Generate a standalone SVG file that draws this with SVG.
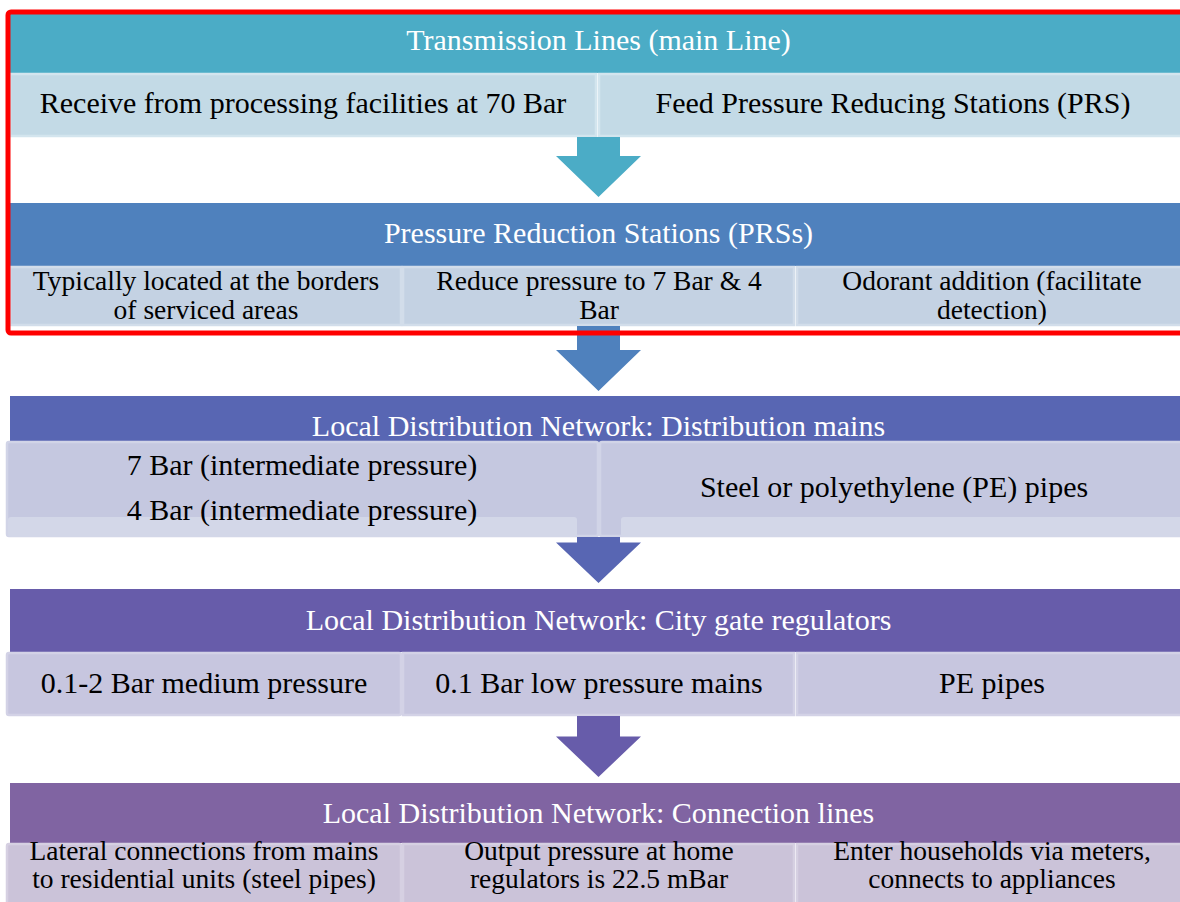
<svg xmlns="http://www.w3.org/2000/svg" width="1180" height="902" viewBox="0 0 1180 902">
<style>
text{font-family:"Liberation Serif","Times New Roman",serif;text-anchor:middle}
.h{fill:#fff;font-size:30px}
.s{fill:#000;font-size:30px}
.s2{fill:#000;font-size:27.5px}
.b1{fill:#C3DAE6;stroke:#D3E5EE;stroke-width:2.5}
.b2{fill:#C4D2E3;stroke:#D2DDEA;stroke-width:2.5}
.b3{fill:#C5C8E0;stroke:#D1D4E7;stroke-width:2.5}
.b4{fill:#C7C6DF;stroke:#D3D2E6;stroke-width:2.5}
.b5{fill:#CBC3D9;stroke:#D6D0E2;stroke-width:2.5}
</style>
<rect width="1180" height="902" fill="#fff"/>
<g id="transmission">
<rect x="10" y="10" width="1180" height="63" fill="#4BACC6"/>
<text class="h" x="598.5" y="50">Transmission Lines (main Line)</text>
<rect class="b1" x="10" y="74" width="586" height="62"/>
<rect class="b1" x="599" y="74" width="590" height="62"/>
<text class="s" x="303" y="113">Receive from processing facilities at 70 Bar</text>
<text class="s" x="893" y="113">Feed Pressure Reducing Stations (PRS)</text>
</g>
<g id="prs">
<rect x="10" y="203" width="1180" height="63" fill="#4F81BD"/>
<text class="h" x="598.5" y="243">Pressure Reduction Stations (PRSs)</text>
<rect class="b2" x="10" y="267" width="391" height="58"/>
<rect class="b2" x="403" y="267" width="391" height="58"/>
<rect class="b2" x="797" y="267" width="392" height="58"/>
<text class="s2" x="206" y="290">Typically located at the borders</text>
<text class="s2" x="206" y="319">of serviced areas</text>
<text class="s2" x="599" y="290">Reduce pressure to 7 Bar &amp; 4</text>
<text class="s2" x="599" y="319">Bar</text>
<text class="s2" x="992" y="290">Odorant addition (facilitate</text>
<text class="s2" x="992" y="319">detection)</text>
</g>
<g id="distribution-mains">
<rect x="10" y="396" width="1180" height="60" fill="#5866B3"/>
<text class="h" x="598.5" y="436">Local Distribution Network: Distribution mains</text>
<rect class="b3" x="7" y="442" width="591" height="94" rx="2"/>
<rect class="b3" x="600" y="442" width="589" height="94" rx="2"/>
<rect x="8" y="517" width="569" height="20" rx="3" fill="#D3D7E8"/>
<rect x="621" y="517" width="568" height="20" rx="3" fill="#D3D7E8"/>
<text class="s" x="302" y="475">7 Bar (intermediate pressure)</text>
<text class="s" x="302" y="520">4 Bar (intermediate pressure)</text>
<text class="s" x="894" y="497">Steel or polyethylene (PE) pipes</text>
</g>
<g id="city-gate">
<rect x="10" y="589" width="1180" height="63" fill="#675CAA"/>
<text class="h" x="598.5" y="630">Local Distribution Network: City gate regulators</text>
<rect class="b4" x="7" y="653" width="394" height="62" rx="2"/>
<rect class="b4" x="403" y="653" width="391" height="62"/>
<rect class="b4" x="797" y="653" width="392" height="62"/>
<text class="s" x="204" y="693">0.1-2 Bar medium pressure</text>
<text class="s" x="599" y="693">0.1 Bar low pressure mains</text>
<text class="s" x="992" y="693">PE pipes</text>
</g>
<g id="connection-lines">
<rect x="10" y="783" width="1180" height="60" fill="#8064A2"/>
<text class="h" x="598.5" y="823">Local Distribution Network: Connection lines</text>
<rect class="b5" x="7" y="844" width="394" height="70" rx="2"/>
<rect class="b5" x="403" y="844" width="391" height="70"/>
<rect class="b5" x="797" y="844" width="392" height="70"/>
<text class="s2" x="204" y="860">Lateral connections from mains</text>
<text class="s2" x="204" y="888">to residential units (steel pipes)</text>
<text class="s2" x="599" y="860">Output pressure at home</text>
<text class="s2" x="599" y="888">regulators is 22.5 mBar</text>
<text class="s2" x="992" y="860">Enter households via meters,</text>
<text class="s2" x="992" y="888">connects to appliances</text>
</g>
<g id="connectors">
<path d="M577,137 H620 V156 H641 L598.5,197 L556,156 H577 Z" fill="#4BACC6"/>
<path d="M577,326 H620 V350 H641 L598.5,391 L556,350 H577 Z" fill="#4F81BD"/>
<path d="M577,537 H620 V542.5 H641 L598.5,583 L556,542.5 H577 Z" fill="#5866B3"/>
<path d="M577,716 H620 V736.5 H641 L598.5,777 L556,736.5 H577 Z" fill="#675CAA"/>
</g>
<rect x="8" y="12" width="1185" height="321" rx="3" fill="none" stroke="#FF0000" stroke-width="5"/>
</svg>
